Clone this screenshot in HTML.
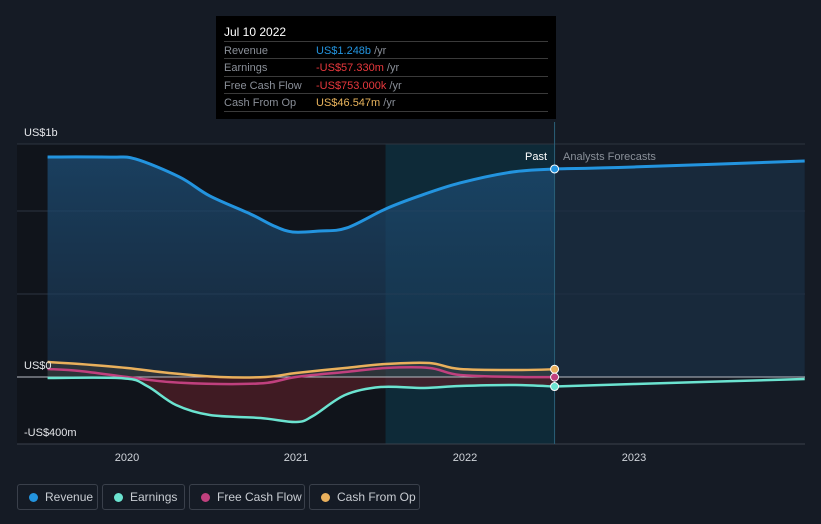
<!DOCTYPE html>
<html><head><meta charset="utf-8"><style>
body{margin:0;background:#151b25;font-family:"Liberation Sans",sans-serif;}
#wrap{position:relative;width:821px;height:524px;overflow:hidden;}
.tt{position:absolute;left:216px;top:16px;width:340px;height:103px;background:#000;}
.tt .h{position:absolute;left:8px;top:9px;color:#fff;font-size:12px;}
.row{position:absolute;left:8px;width:324px;height:17px;border-top:1px solid #3a3a3a;font-size:11px;color:#8a8f98;}
.row span.l{position:absolute;left:0;top:3px}
.row span.v{position:absolute;left:92px;top:3px}
.leg{position:absolute;top:484px;height:26px;border:1px solid #3a404b;border-radius:3px;color:#c8ccd2;font-size:12px;box-sizing:border-box;}
.leg i{position:absolute;left:11px;top:8px;width:9px;height:9px;border-radius:50%}
.leg span{position:absolute;left:27px;top:5px}
</style></head><body>
<div id="wrap">
<svg id="svg" width="821" height="524" style="position:absolute;left:0;top:0"></svg>
<div class="tt">
<div class="h">Jul 10 2022</div>
<div class="row" style="top:25px"><span class="l">Revenue</span><span class="v"><b style="font-weight:normal;color:#2394df">US$1.248b</b> /yr</span></div>
<div class="row" style="top:42px"><span class="l">Earnings</span><span class="v"><b style="font-weight:normal;color:#e8383d">-US$57.330m</b> /yr</span></div>
<div class="row" style="top:60px"><span class="l">Free Cash Flow</span><span class="v"><b style="font-weight:normal;color:#e8383d">-US$753.000k</b> /yr</span></div>
<div class="row" style="top:77px;border-bottom:1px solid #3a3a3a"><span class="l">Cash From Op</span><span class="v"><b style="font-weight:normal;color:#e9b45c">US$46.547m</b> /yr</span></div>
</div>
<div class="leg" style="left:17px;width:81px"><i style="background:#2394df"></i><span>Revenue</span></div>
<div class="leg" style="left:102px;width:83px"><i style="background:#6be3d0"></i><span>Earnings</span></div>
<div class="leg" style="left:189px;width:116px"><i style="background:#c0407e"></i><span>Free Cash Flow</span></div>
<div class="leg" style="left:309px;width:111px"><i style="background:#e9b05c"></i><span>Cash From Op</span></div>
</div>
<script>
const revX=[2019.53,2019.9,2020.05,2020.31,2020.49,2020.73,2020.87,2020.98,2021.14,2021.3,2021.53,2021.73,2021.97,2022.28,2022.53];
const revV=[1320,1319,1308,1200,1086,978,906,870,876,894,1008,1086,1164,1230,1248];
const revFX=[2022.53,2023,2024.01];
const revFV=[1248,1260,1296];
const earnX=[2019.53,2019.98,2020.12,2020.29,2020.49,2020.79,2021,2021.1,2021.29,2021.5,2021.76,2021.97,2022.3,2022.53];
const earnV=[-6,-8,-55,-168,-228,-246,-270,-234,-108,-60,-66,-54,-48,-57.3];
const earnFX=[2022.53,2023,2024.01];
const earnFV=[-57.3,-42,-12];
const fcfX=[2019.53,2019.72,2020,2020.25,2020.55,2020.82,2021,2021.29,2021.53,2021.79,2021.97,2022.33,2022.53];
const fcfV=[48,36,0,-30,-42,-36,0,30,54,54,12,0,-0.75];
const cfoX=[2019.53,2019.72,2020,2020.25,2020.55,2020.82,2021,2021.29,2021.53,2021.79,2021.97,2022.33,2022.53];
const cfoV=[90,78,54,24,0,0,24,54,78,84,48,42,46.5];
const xTicks=[2020,2021,2022,2023];
const NS='http://www.w3.org/2000/svg';
const svg=document.getElementById('svg');
const X=t=>127+(t-2020)*169;
const Y=v=>377-v*0.1667;
function el(tag,a,name){const e=document.createElementNS(NS,tag);for(const k in a)e.setAttribute(k,a[k]);


svg.appendChild(e);return e;}
function path(xs,vs){const p=xs.map((t,i)=>[X(t),Y(vs[i])]);let d='M'+p[0][0]+','+p[0][1];
for(let i=0;i<p.length-1;i++){const p0=p[Math.max(i-1,0)],p1=p[i],p2=p[i+1],p3=p[Math.min(i+2,p.length-1)];
const c1=[p1[0]+(p2[0]-p0[0])/6,p1[1]+(p2[1]-p0[1])/6],c2=[p2[0]-(p3[0]-p1[0])/6,p2[1]-(p3[1]-p1[1])/6];
d+=' C'+c1[0]+','+c1[1]+' '+c2[0]+','+c2[1]+' '+p2[0]+','+p2[1];}return d;}
const defs=document.createElementNS(NS,'defs');defs.innerHTML='<linearGradient id="rg" x1="0" y1="0" x2="0" y2="1"><stop offset="0" stop-color="#1c4a70" stop-opacity="0.8"/><stop offset="1" stop-color="#1c3a58" stop-opacity="0.5"/></linearGradient>';svg.appendChild(defs);
el('rect',{x:17,y:144,width:X(2021.53)-17,height:300,fill:'#10141b'},'past-shade');
el('rect',{x:X(2021.53),y:144,width:X(2022.53)-X(2021.53),height:300,fill:'#0e2a38'},'highlight-band');
[144,211,294].forEach(y=>el('line',{x1:17,x2:805,y1:y,y2:y,stroke:'#2d3440','stroke-width':1},'gridline'));
el('line',{x1:17,x2:805,y1:444,y2:444,stroke:'#3a414c','stroke-width':1},'x-axis');
el('path',{d:path(revX,revV)+` L${X(2022.53)},${Y(0)} L${X(revX[0])},${Y(0)} Z`,fill:'url(#rg)'},'revenue-area');
el('path',{d:path(revFX,revFV)+` L${X(2024.01)},${Y(0)} L${X(2022.53)},${Y(0)} Z`,fill:'#1a2f45','fill-opacity':0.7},'revenue-forecast-area');
el('path',{d:path(earnX,earnV)+` L${X(2022.53)},${Y(0)} L${X(earnX[0])},${Y(0)} Z`,fill:'#5a1e28','fill-opacity':0.65},'earnings-area');
el('path',{d:path(cfoX,cfoV)+` L${X(2022.53)},${Y(0)} L${X(cfoX[0])},${Y(0)} Z`,fill:'#5a4a3a','fill-opacity':0.35},'cfo-area');
el('line',{x1:17,x2:805,y1:377,y2:377,stroke:'#b8bcc4','stroke-width':1},'zero-line');
el('line',{x1:X(2022.53),x2:X(2022.53),y1:122,y2:444,stroke:'#2a5f78','stroke-width':1},'past-divider');
el('path',{d:path(revX,revV),fill:'none',stroke:'#2394df','stroke-width':3},'revenue-line');
el('path',{d:path(revFX,revFV),fill:'none',stroke:'#2394df','stroke-width':3},'revenue-forecast-line');
el('path',{d:path(cfoX,cfoV),fill:'none',stroke:'#e9b05c','stroke-width':2.5},'cfo-line');
el('path',{d:path(fcfX,fcfV),fill:'none',stroke:'#c0407e','stroke-width':2.5},'fcf-line');
el('path',{d:path(earnX,earnV),fill:'none',stroke:'#6be3d0','stroke-width':2.5},'earnings-line');
el('path',{d:path(earnFX,earnFV),fill:'none',stroke:'#6be3d0','stroke-width':2.5},'earnings-forecast-line');
[[revV,'#2394df'],[cfoV,'#e9b05c'],[fcfV,'#c0407e'],[earnV,'#6be3d0']].forEach(([v,c])=>el('circle',{cx:X(2022.53),cy:Y(v[v.length-1]),r:4,fill:c,stroke:'#fff','stroke-width':1},'marker'));
xTicks.forEach(t=>{const e=el('text',{x:X(t),y:461,fill:'#d0d4da','font-size':11,'text-anchor':'middle','font-family':'Liberation Sans'},'x-tick-label');e.textContent=t;});
[['US$1b',24,136],['US$0',24,369],['-US$400m',24,436]].forEach(([s,x,y])=>{const e=el('text',{x,y,fill:'#e4e6ea','font-size':11,'font-family':'Liberation Sans'},'y-tick-label');e.textContent=s;});
let e=el('text',{x:547,y:160,fill:'#fff','font-size':11,'text-anchor':'end','font-family':'Liberation Sans'},'past-label');e.textContent='Past';
e=el('text',{x:563,y:160,fill:'#8a9099','font-size':11,'font-family':'Liberation Sans'},'forecast-label');e.textContent='Analysts Forecasts';
</script>
</body></html>
